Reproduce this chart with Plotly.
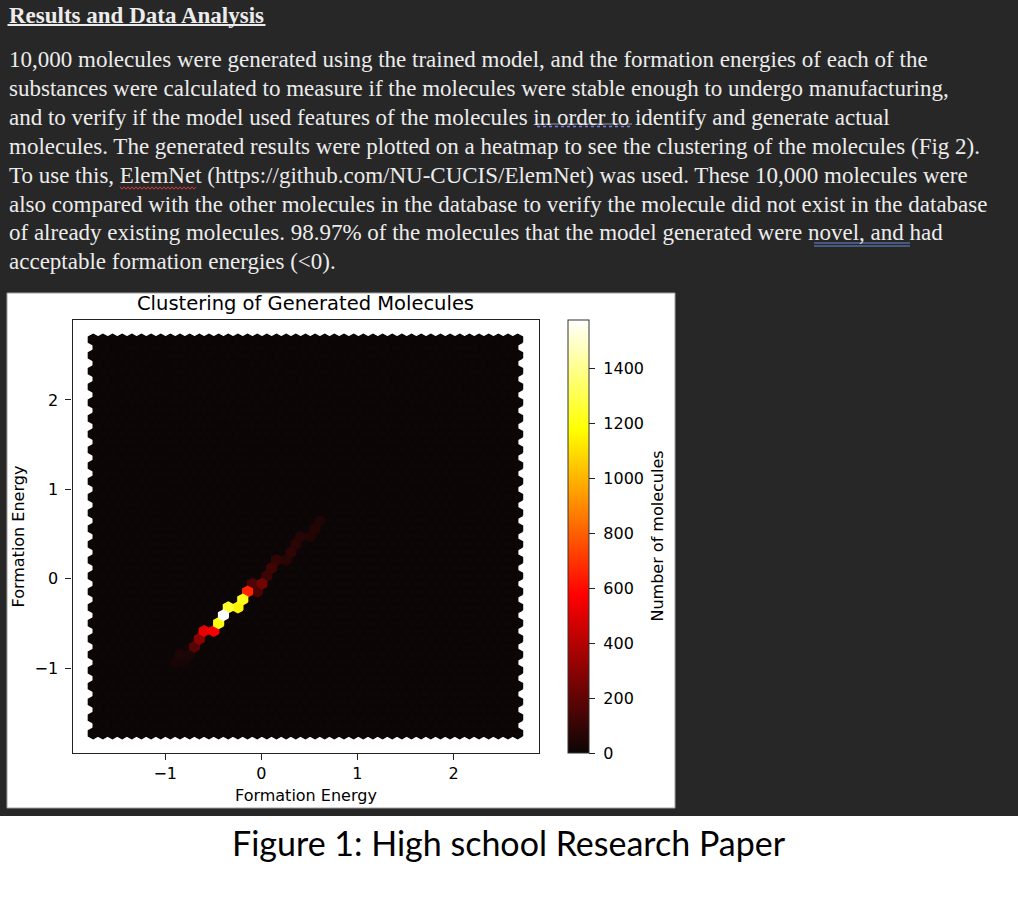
import math
import numpy as np
import plotly.graph_objects as go

W, H = 1018, 915

# ---------------- data ----------------
heading = "Results and Data Analysis"
paragraph_lines = [
    "10,000 molecules were generated using the trained model, and the formation energies of each of the",
    "substances were calculated to measure if the molecules were stable enough to undergo manufacturing,",
    "and to verify if the model used features of the molecules in order to identify and generate actual",
    "molecules. The generated results were plotted on a heatmap to see the clustering of the molecules (Fig 2).",
    "To use this, ElemNet (https://github.com/NU-CUCIS/ElemNet) was used. These 10,000 molecules were",
    "also compared with the other molecules in the database to verify the molecule did not exist in the database",
    "of already existing molecules. 98.97% of the molecules that the model generated were novel, and had",
    "acceptable formation energies (<0).",
]
chart_title = "Clustering of Generated Molecules"
x_label = "Formation Energy"
y_label = "Formation Energy"
cbar_label = "Number of molecules"
caption = "Figure 1: High school Research Paper"

# energies of the occupied hexagon bins and number of molecules in each
energy_x = [-0.90, -0.80, -0.85, -0.75, -0.69, -0.64, -0.59, -0.49, -0.44, -0.39,
            -0.34, -0.24, -0.19, -0.14, -0.04, -0.09, 0.01, 0.06, 0.11, 0.16,
            0.26, 0.31, 0.36, 0.41, 0.51, 0.56, 0.61]
energy_y = [-0.94, -0.94, -0.85, -0.85, -0.76, -0.67, -0.58, -0.58, -0.50, -0.41,
            -0.32, -0.32, -0.23, -0.14, -0.14, -0.06, -0.06, 0.03, 0.12, 0.21,
            0.21, 0.30, 0.38, 0.47, 0.47, 0.56, 0.65]
molecule_counts = [25, 20, 40, 35, 180, 300, 520, 560, 1200, 1578,
                   1250, 1150, 1220, 660, 150, 160, 240, 110, 120, 90,
                   70, 80, 70, 60, 50, 55, 40]

# extent of the generated energies and hexbin grid size
energy_x_extent = [-1.749, 2.668]
energy_y_extent = [-1.730, 2.675]
grid_nx, grid_ny = 44, 25

x_ticks = [-1, 0, 1, 2]
y_ticks = [-1, 0, 1, 2]
cbar_ticks = [0, 200, 400, 600, 800, 1000, 1200, 1400]

# ---------------- helpers ----------------
def px_x(v):
    return v / W

def px_y(v):
    return 1 - v / H

hot_scale = [[0.0, (12, 6, 6)], [0.365079, (255, 0, 0)],
             [0.746032, (255, 255, 0)], [1.0, (255, 255, 255)]]

def hot_color(v):
    v = min(max(v, 0.0), 1.0)
    for (a, ca), (b, cb) in zip(hot_scale[:-1], hot_scale[1:]):
        if v <= b:
            t = (v - a) / (b - a) if b > a else 0
            c = [round(ca[i] + t * (cb[i] - ca[i])) for i in range(3)]
            return "rgb(%d,%d,%d)" % tuple(c)
    return "rgb(255,255,255)"

xmin, xmax = energy_x_extent
ymin, ymax = energy_y_extent
sx = (xmax - xmin) / grid_nx
sy = (ymax - ymin) / grid_ny
hex_dx = np.array([0.5, 0.5, 0.0, -0.5, -0.5, 0.0]) * sx
hex_dy = np.array([-0.5, 0.5, 1.0, 0.5, -0.5, -1.0]) * sy / 3.0


def bin_of(x, y):
    ix = (x - xmin) / sx
    iy = (y - ymin) / sy
    ix1, iy1 = round(ix), round(iy)
    ix2, iy2 = math.floor(ix), math.floor(iy)
    d1 = (ix - ix1) ** 2 + 3.0 * (iy - iy1) ** 2
    d2 = (ix - ix2 - 0.5) ** 2 + 3.0 * (iy - iy2 - 0.5) ** 2
    if d1 < d2:
        return ("a", ix1, iy1)
    return ("b", ix2, iy2)


def center_of(key):
    lat, i, j = key
    if lat == "a":
        return xmin + i * sx, ymin + j * sy
    return xmin + (i + 0.5) * sx, ymin + (j + 0.5) * sy


def poly(cx, cy):
    xs = list(cx + hex_dx) + [cx + hex_dx[0], None]
    ys = list(cy + hex_dy) + [cy + hex_dy[0], None]
    return xs, ys

counts = {}
for x, y, c in zip(energy_x, energy_y, molecule_counts):
    k = bin_of(x, y)
    counts[k] = counts.get(k, 0) + c
cmax = max(counts.values())

fig = go.Figure()

# empty bins
zx, zy = [], []
all_keys = [("a", i, j) for j in range(grid_ny + 1) for i in range(grid_nx + 1)] + \
           [("b", i, j) for j in range(grid_ny) for i in range(grid_nx)]
for key in all_keys:
    if key in counts:
        continue
    cx, cy = center_of(key)
    xs, ys = poly(cx, cy)
    zx += xs
    zy += ys
zero_col = hot_color(0)
fig.add_trace(go.Scatter(x=zx, y=zy, mode="lines", fill="toself", fillcolor=zero_col,
                         line=dict(color=zero_col, width=1.5), hoverinfo="skip",
                         showlegend=False))

# occupied bins
for key, c in sorted(counts.items(), key=lambda kv: kv[1]):
    cx, cy = center_of(key)
    xs, ys = poly(cx, cy)
    col = hot_color(c / cmax)
    fig.add_trace(go.Scatter(x=xs, y=ys, mode="lines", fill="toself", fillcolor=col,
                             line=dict(color=col, width=1.5), hoverinfo="skip",
                             showlegend=False))

# colorbar carrier
cs = [[s, "rgb(%d,%d,%d)" % c] for s, c in hot_scale]
fig.add_trace(go.Scatter(
    x=[0, 0], y=[0, 0], mode="markers", hoverinfo="skip", showlegend=False,
    marker=dict(color=[0, cmax], cmin=0, cmax=cmax, colorscale=cs, size=1, opacity=0,
                showscale=True,
                colorbar=dict(x=px_x(568), xanchor="left", xpad=0,
                              y=px_y(536.5), yanchor="middle", ypad=0,
                              len=433, lenmode="pixels", thickness=21,
                              thicknessmode="pixels", outlinewidth=1,
                              outlinecolor="#333", ticks="outside", ticklen=6,
                              tickwidth=1.3, tickcolor="#222", tickvals=cbar_ticks,
                              ticktext=["\u00a0" + str(v) for v in cbar_ticks],
                              tickfont=dict(family="DejaVu Sans", size=16, color="black")))))

chart_font = dict(family="DejaVu Sans", size=16, color="black")
axis_common = dict(showline=True, mirror=True, linecolor="#222", linewidth=1.3,
                   ticks="outside", ticklen=6, tickwidth=1.3, tickcolor="#222",
                   showgrid=False, zeroline=False, tickfont=chart_font)

fig.update_layout(
    width=W, height=H, autosize=False,
    margin=dict(l=0, r=0, t=0, b=0),
    paper_bgcolor="white", plot_bgcolor="white",
    xaxis=dict(domain=[px_x(72.5), px_x(538.5)], range=[-1.965, 2.885],
               tickvals=x_ticks, **axis_common),
    yaxis=dict(domain=[px_y(753), px_y(320)], range=[-1.95, 2.895],
               tickvals=y_ticks, ticklabelstandoff=4, **axis_common),
)

shapes = [
    dict(type="rect", xref="paper", yref="paper", x0=0, x1=1, y0=px_y(816), y1=1,
         fillcolor="#272727", line=dict(width=0), layer="below"),
    dict(type="rect", xref="paper", yref="paper", x0=px_x(7), x1=px_x(675),
         y0=px_y(808), y1=px_y(293), fillcolor="white",
         line=dict(color="#a0a0a0", width=1), layer="below"),
    # heading underline
    dict(type="line", xref="paper", yref="paper", x0=px_x(7.5), x1=px_x(265.5),
         y0=px_y(25), y1=px_y(25), line=dict(color="#ececec", width=2)),
    # "in order to": underline + dotted blue mark
    dict(type="line", xref="paper", yref="paper", x0=px_x(537), x1=px_x(632),
         y0=px_y(124), y1=px_y(124), line=dict(color="#9a9a9a", width=1)),
    dict(type="line", xref="paper", yref="paper", x0=px_x(537), x1=px_x(633),
         y0=px_y(126.5), y1=px_y(126.5),
         line=dict(color="#7b7bf0", width=1.6, dash="dot")),
    # "novel, and": double blue underline
    dict(type="line", xref="paper", yref="paper", x0=px_x(814), x1=px_x(910),
         y0=px_y(243), y1=px_y(243), line=dict(color="#6a8cd8", width=1)),
    dict(type="line", xref="paper", yref="paper", x0=px_x(814), x1=px_x(910),
         y0=px_y(246), y1=px_y(246), line=dict(color="#6a8cd8", width=1)),
]
# wavy spelling underline under "ElemNet"
wx = np.arange(120, 198, 2.0)
wy = [188 + (1.2 if i % 2 else -1.2) for i in range(len(wx))]
path = "M " + " L ".join("%.5f,%.5f" % (px_x(a), px_y(b)) for a, b in zip(wx, wy))
shapes.append(dict(type="path", xref="paper", yref="paper", path=path,
                   line=dict(color="#d03a3a", width=1)))
fig.update_layout(shapes=shapes)

doc_font = dict(family="Liberation Serif", size=23, color="#ececec")
ann = [dict(text="<b>" + heading + "</b>", x=px_x(7.5), y=px_y(15), xref="paper",
            yref="paper", xanchor="left", yanchor="middle", showarrow=False,
            font=doc_font, borderpad=0)]
for i, line in enumerate(paragraph_lines):
    ann.append(dict(text=line.replace("<", "&lt;"), x=px_x(7.5), y=px_y(59.5 + 28.9 * i),
                    xref="paper", yref="paper", xanchor="left", yanchor="middle",
                    showarrow=False, font=doc_font, borderpad=0))
ann += [
    dict(text=chart_title, x=px_x(305.5), y=px_y(303), xref="paper", yref="paper",
         xanchor="center", yanchor="middle", showarrow=False,
         font=dict(family="DejaVu Sans", size=19.5, color="black")),
    dict(text=x_label, x=px_x(305.5), y=px_y(795), xref="paper", yref="paper",
         xanchor="center", yanchor="middle", showarrow=False, font=chart_font),
    dict(text=y_label, x=px_x(18), y=px_y(536.5), xref="paper", yref="paper",
         xanchor="center", yanchor="middle", showarrow=False, textangle=-90,
         font=chart_font),
    dict(text=cbar_label, x=px_x(657), y=px_y(536.5), xref="paper", yref="paper",
         xanchor="center", yanchor="middle", showarrow=False, textangle=-90,
         font=chart_font),
    dict(text=caption, x=px_x(509), y=px_y(842), xref="paper", yref="paper",
         xanchor="center", yanchor="middle", showarrow=False,
         font=dict(family="Lato", size=34, color="black")),
]
fig.update_layout(annotations=ann)

fig.write_html("out.html")
